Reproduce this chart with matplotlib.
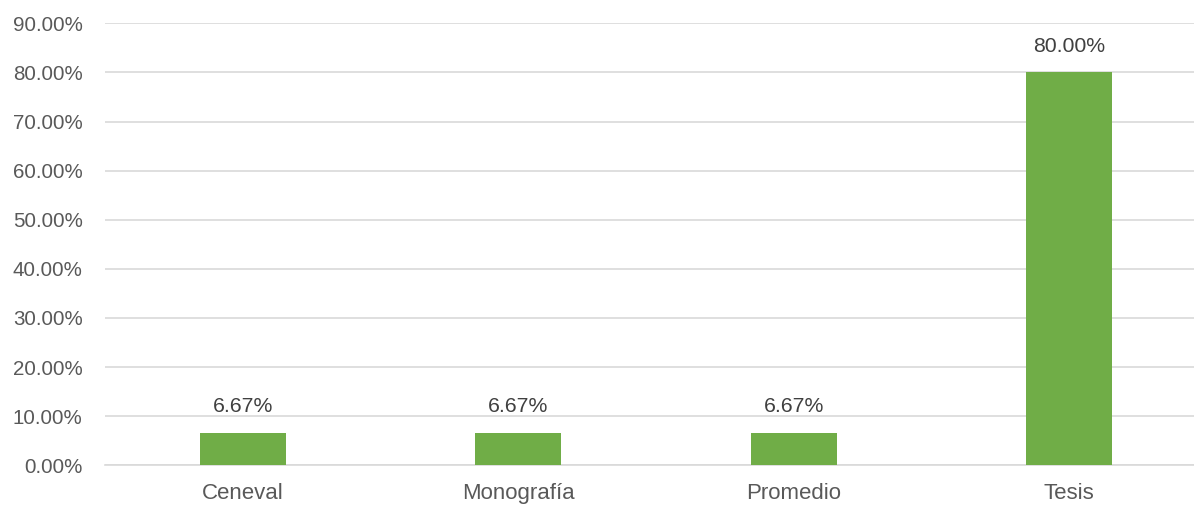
import matplotlib.pyplot as plt
import numpy as np

categories = ["Ceneval", "Monografía", "Promedio", "Tesis"]
values = [6.67, 6.67, 6.67, 80.00]
yticks = [0, 10, 20, 30, 40, 50, 60, 70, 80, 90]

plt.rcParams["font.family"] = ["Liberation Sans", "DejaVu Sans"]

fig = plt.figure(figsize=(11.94, 5.08), dpi=100)
ax = fig.add_axes([0.0879, 0.0841, 0.9121, 0.870])

x = np.arange(len(categories))
bars = ax.bar(x, values, width=0.312, color="#70AD47", zorder=3)

for xi, v in zip(x, values):
    ax.annotate(f"{v:.2f}%", (xi, v), xytext=(0, 12), textcoords="offset points",
                ha="center", va="bottom", fontsize=15.3, color="#404040")

ax.set_xlim(-0.5, 3.453)
ax.set_ylim(0, 90)
ax.set_yticks(yticks)
ax.set_yticklabels([f"{t:.2f}%" for t in yticks])
ax.set_xticks(x)
ax.set_xticklabels(categories)
ax.tick_params(axis="y", length=0, pad=16, labelsize=14.8, labelcolor="#595959")
ax.tick_params(axis="x", length=0, pad=13, labelsize=16, labelcolor="#595959")
ax.grid(axis="y", color="#D9D9D9", linewidth=1.2, zorder=0)
for s in ["top", "right", "left"]:
    ax.spines[s].set_visible(False)
ax.spines["bottom"].set_color("#D9D9D9")
ax.spines["bottom"].set_linewidth(1.2)

fig.savefig("out.png", dpi=100)
